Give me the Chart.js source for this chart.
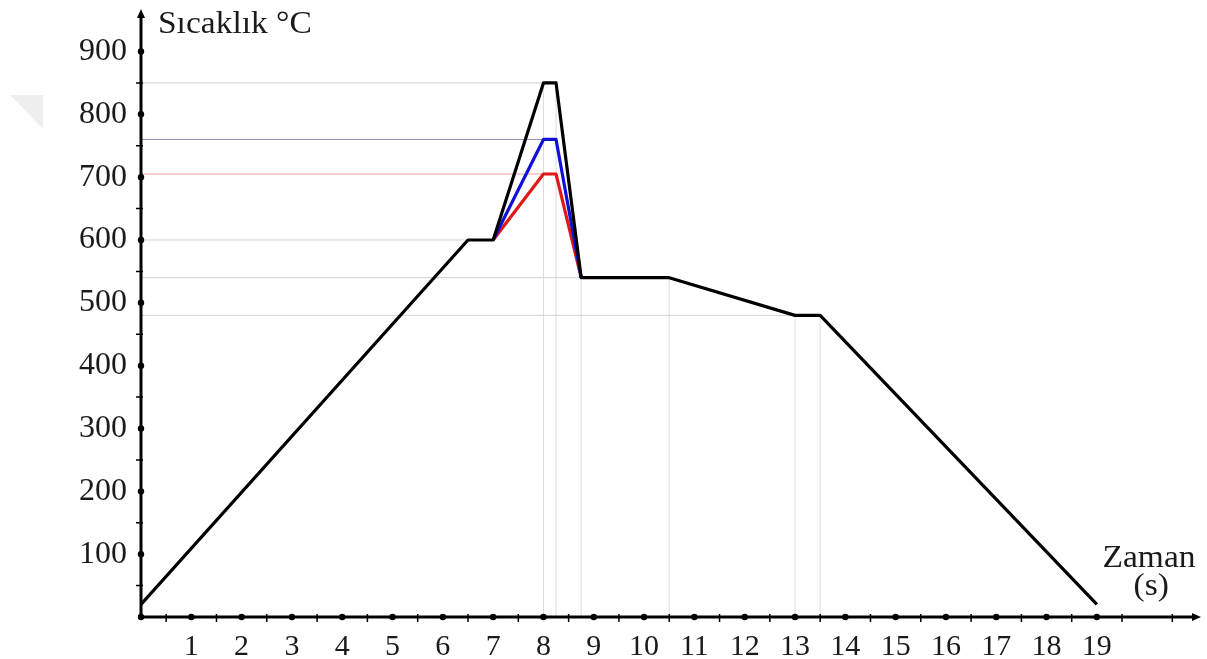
<!DOCTYPE html>
<html>
<head>
<meta charset="utf-8">
<script src="https://cdn.jsdelivr.net/npm/chart.js@4.4.1/dist/chart.umd.min.js"></script>
<style>
  html, body { margin: 0; padding: 0; background: #ffffff; }
  #wrap { width: 1207px; height: 659px; position: relative; }
</style>
</head>
<body>
<div id="wrap"><canvas id="c"></canvas></div>
<script>
// ---- data ----
const timeMain = [0, 6.5, 7, 8, 8.25, 8.75, 10.5, 13, 13.5, 19];
const tempMain = [20, 600, 600, 850, 850, 540, 540, 480, 480, 20];
const timePeak = [7, 8, 8.25, 8.75];
const tempBlue = [600, 760, 760, 540];
const tempRed  = [600, 705, 705, 540];
const xTickValues = [1,2,3,4,5,6,7,8,9,10,11,12,13,14,15,16,17,18,19];
const yTickValues = [100,200,300,400,500,600,700,800,900];
const yTitle = 'Sıcaklık °C';
const xTitle = ['Zaman', '(s)'];

const toPts = (xs, ys) => xs.map((x, i) => ({ x: x, y: ys[i] }));

// guide lines built from the data points
const hGuides = [
  { y: tempMain[3], x: timeMain[3], color: '#cdcddb' },
  { y: tempBlue[1], x: timePeak[1], color: '#9090c0' },
  { y: tempRed[1],  x: timePeak[1], color: '#eaa0a0' },
  { y: tempMain[1], x: timeMain[1], color: '#d0d0d0' },
  { y: tempMain[5], x: timeMain[5], color: '#d0d0d0' },
  { y: tempMain[7], x: timeMain[7], color: '#d0d0d0' }
];
const vGuideIdx = [3, 4, 5, 6, 7, 8];

const datasets = [];
datasets.push({ data: toPts(timeMain, tempMain), borderColor: '#000000', borderWidth: 3.2, order: 1 });
datasets.push({ data: toPts(timePeak, tempBlue), borderColor: '#1010d8', borderWidth: 3.2, order: 2 });
datasets.push({ data: toPts(timePeak, tempRed),  borderColor: '#e01818', borderWidth: 3.2, order: 3 });
hGuides.forEach(g => datasets.push({
  data: [{ x: 0, y: g.y }, { x: g.x, y: g.y }], borderColor: g.color, borderWidth: 1, order: 10
}));
vGuideIdx.forEach(i => datasets.push({
  data: [{ x: timeMain[i], y: 0 }, { x: timeMain[i], y: tempMain[i] }], borderColor: '#dcdcdc', borderWidth: 1, order: 10
}));
datasets.forEach(d => { d.showLine = true; d.pointRadius = 0; d.tension = 0; d.fill = false; d.borderJoinStyle = 'round'; });

const FONT = 'Liberation Serif';

const axesPlugin = {
  id: 'axesPlugin',
  beforeDraw(chart) {
    const ctx = chart.ctx;
    ctx.save();
    ctx.fillStyle = '#eeeeee';
    ctx.beginPath();
    ctx.moveTo(10, 95); ctx.lineTo(43, 95); ctx.lineTo(43, 129); ctx.closePath();
    ctx.fill();
    ctx.restore();
  },
  afterDraw(chart) {
    const ctx = chart.ctx;
    const xs = chart.scales.x, ys = chart.scales.y;
    const a = chart.chartArea;
    const x0 = xs.getPixelForValue(0), y0 = ys.getPixelForValue(0);
    ctx.save();
    ctx.strokeStyle = '#000'; ctx.fillStyle = '#000';
    ctx.lineWidth = 3;
    ctx.beginPath();
    ctx.moveTo(x0, y0); ctx.lineTo(a.right - 4, y0);
    ctx.moveTo(x0, y0); ctx.lineTo(x0, a.top + 4);
    ctx.stroke();
    ctx.beginPath();
    ctx.moveTo(a.right + 1, y0); ctx.lineTo(a.right - 8, y0 - 4); ctx.lineTo(a.right - 8, y0 + 4); ctx.closePath();
    ctx.fill();
    ctx.beginPath();
    ctx.moveTo(x0, a.top - 1); ctx.lineTo(x0 - 4, a.top + 8); ctx.lineTo(x0 + 4, a.top + 8); ctx.closePath();
    ctx.fill();
    const dot = (px, py) => { ctx.beginPath(); ctx.arc(px, py, 3.2, 0, Math.PI * 2); ctx.fill(); };
    dot(x0, y0);
    xTickValues.forEach(v => dot(xs.getPixelForValue(v), y0));
    yTickValues.forEach(v => dot(x0, ys.getPixelForValue(v)));
    ctx.lineWidth = 1.5;
    ctx.beginPath();
    for (let v = 0.5; v < xs.max - 0.5; v += 1) {
      const px = xs.getPixelForValue(v);
      ctx.moveTo(px, y0 - 3); ctx.lineTo(px, y0 + 5);
    }
    for (let v = 50; v < ys.max - 20; v += 100) {
      const py = ys.getPixelForValue(v);
      ctx.moveTo(x0 - 5, py); ctx.lineTo(x0 + 2, py);
    }
    ctx.stroke();
    ctx.fillStyle = '#1a1a1a';
    ctx.font = '31px "' + FONT + '"';
    ctx.textBaseline = 'alphabetic';
    ctx.save();
    ctx.translate(158, 33);
    ctx.scale(1.08, 1);
    ctx.textAlign = 'left';
    ctx.fillText(yTitle, 0, 0);
    ctx.restore();
    ctx.save();
    ctx.textAlign = 'center';
    ctx.translate(1149, 567);
    ctx.scale(1.08, 1);
    ctx.fillText(xTitle[0], 0, 0);
    ctx.fillText(xTitle[1], 2, 28);
    ctx.restore();
    ctx.restore();
  }
};

const zeroPad = s => { s.paddingTop = 0; s.paddingBottom = 0; s.paddingLeft = 0; s.paddingRight = 0; };

new Chart(document.getElementById('c'), {
  type: 'scatter',
  data: { datasets: datasets },
  options: {
    responsive: true,
    maintainAspectRatio: false,
    animation: false,
    layout: { padding: { left: 0, right: 7, top: 10, bottom: 0 } },
    plugins: { legend: { display: false }, tooltip: { enabled: false } },
    scales: {
      x: {
        type: 'linear', min: 0, max: 21.05,
        grid: { display: false, drawTicks: false }, border: { display: false },
        afterBuildTicks: s => { s.ticks = xTickValues.map(v => ({ value: v })); },
        afterFit: s => { s.height = 42; zeroPad(s); },
        ticks: { color: '#1a1a1a', font: { family: FONT, size: 30 }, padding: 12, maxRotation: 0, autoSkip: false,
                 callback: v => String(v) }
      },
      y: {
        type: 'linear', min: 0, max: 966,
        grid: { display: false, drawTicks: false }, border: { display: false },
        afterBuildTicks: s => { s.ticks = yTickValues.map(v => ({ value: v })); },
        afterFit: s => { s.width = 141; zeroPad(s); },
        ticks: { color: '#1a1a1a', font: { family: FONT, size: 32 }, padding: 14, autoSkip: false,
                 callback: v => String(v) }
      }
    }
  },
  plugins: [axesPlugin]
});
</script>
</body>
</html>
